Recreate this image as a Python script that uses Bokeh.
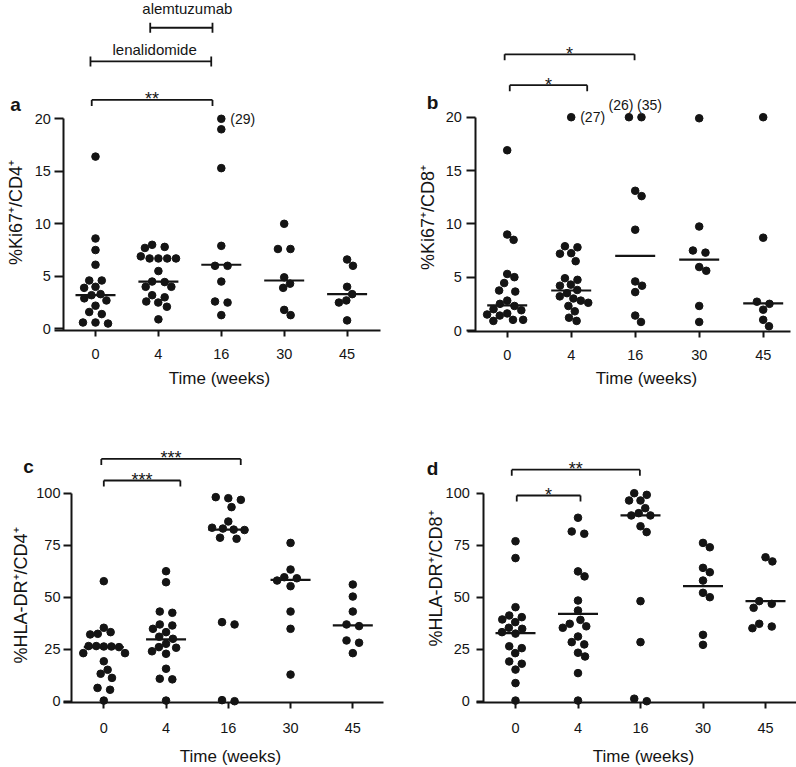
import math
from bokeh.plotting import figure
from bokeh.models import FixedTicker, Range1d
from bokeh.layouts import column, row
from bokeh.embed import file_html
from bokeh.resources import INLINE
from bokeh.core.properties import value

# ---------------- data ----------------
weeks = ["0", "4", "16", "30", "45"]

# a: %Ki67+/CD4+
cd4_ki67_w0 = [16.4, 8.6, 7.5, 6.1, 4.6, 4.6, 4.0, 3.9, 3.3, 3.2, 2.9, 2.7, 2.2, 1.6, 1.4, 0.6, 0.5, 0.6]
cd4_ki67_w4 = [8.0, 7.8, 7.7, 6.9, 6.7, 6.7, 6.7, 6.7, 5.5, 4.5, 4.45, 4.0, 4.0, 3.2, 3.0, 2.6, 2.5, 2.1, 0.9]
cd4_ki67_w16 = [29.0, 19.0, 15.3, 7.9, 6.0, 6.0, 4.5, 2.6, 2.5, 1.3]
cd4_ki67_w30 = [10.0, 7.6, 7.6, 4.9, 4.3, 3.9, 1.8, 1.3]
cd4_ki67_w45 = [6.6, 6.0, 4.0, 3.3, 2.7, 2.5, 0.8]
cd4_ki67_med = [3.2, 4.5, 6.1, 4.6, 3.3]

# b: %Ki67+/CD8+
cd8_ki67_w0 = [16.9, 9.0, 8.5, 5.3, 5.0, 4.45, 3.75, 3.65, 2.8, 2.5, 2.3, 2.0, 1.9, 1.6, 1.5, 1.4, 1.0, 0.9, 1.0]
cd8_ki67_w4 = [27.0, 7.9, 7.8, 7.25, 7.2, 6.5, 4.9, 4.75, 4.3, 4.2, 3.8, 3.5, 3.2, 3.0, 2.8, 2.6, 2.3, 1.8, 1.2, 0.9]
cd8_ki67_w16 = [26.0, 35.0, 13.1, 12.6, 9.45, 4.6, 4.2, 3.6, 1.4, 0.8]
cd8_ki67_w30 = [19.9, 9.75, 7.5, 7.3, 5.95, 5.6, 2.3, 0.8]
cd8_ki67_w45 = [20.0, 8.7, 2.7, 2.5, 1.95, 1.0, 0.4]
cd8_ki67_med = [2.35, 3.75, 7.0, 6.65, 2.55]

# c: %HLA-DR+/CD4+
cd4_hla_w0 = [57.7, 35.3, 33.2, 32.4, 32.1, 26.5, 26.3, 26.0, 26.3, 26.5, 23.1, 23.1, 19.2, 15.1, 13.2, 11.2, 6.4, 5.5, 0.3]
cd4_hla_w4 = [62.5, 57.2, 43.1, 42.5, 36.9, 36.4, 34.8, 33.2, 31.0, 30.0, 27.6, 26.0, 25.7, 24.0, 22.8, 15.6, 10.8, 10.5, 0.3]
cd4_hla_w16 = [98.1, 97.6, 96.8, 93.3, 86.4, 83.4, 83.0, 82.5, 82.3, 78.6, 78.1, 38.0, 36.9, 0.5, 0.0]
cd4_hla_w30 = [76.1, 63.3, 59.6, 59.1, 58.0, 55.3, 43.1, 34.8, 12.8]
cd4_hla_w45 = [56.1, 50.3, 43.1, 36.9, 36.1, 29.2, 28.1, 23.1]
cd4_hla_med = [26.0, 29.7, 82.5, 58.3, 36.5]

# d: %HLA-DR+/CD8+
cd8_hla_w0 = [76.9, 68.8, 45.2, 41.2, 40.4, 39.3, 38.0, 35.3, 34.8, 33.2, 32.5, 26.4, 25.5, 23.1, 19.1, 18.0, 15.2, 8.7, 0.3]
cd8_hla_w4 = [88.2, 81.6, 80.5, 62.4, 60.0, 48.4, 43.6, 39.1, 37.2, 36.0, 35.3, 31.1, 28.4, 27.3, 23.3, 21.5, 13.5, 0.3]
cd8_hla_w16 = [100.0, 99.2, 96.5, 96.5, 92.8, 90.4, 89.3, 89.3, 84.1, 81.3, 48.1, 28.4, 1.2, 0.0]
cd8_hla_w30 = [76.1, 74.0, 64.1, 62.0, 58.0, 52.1, 50.0, 31.9, 27.1]
cd8_hla_w45 = [69.2, 67.2, 48.1, 46.8, 44.9, 37.2, 35.9, 35.1]
cd8_hla_med = [32.7, 42.0, 89.3, 55.3, 48.1]

ki_ticks = [0, 5, 10, 15, 20]
hla_ticks = [0, 25, 50, 75, 100]

# significance brackets: (from x, to x, height, stars)
sig_a = [(-0.06, 1.86, 21.8, "**")]
sig_b = [(-0.04, 1.99, 25.9, "*"), (0.04, 1.25, 23.0, "*")]
sig_c = [(-0.04, 2.2, 116.5, "***"), (0.0, 1.23, 106.1, "***")]
sig_d = [(-0.06, 1.99, 111.3, "**"), (0.02, 1.04, 98.9, "*")]
# treatment periods (panel a): (from x, to x, height, name, text height, text x)
treat_a = [(-0.08, 1.84, 25.46, "lenalidomide", 26.57, 0.94),
           (0.87, 1.86, 28.67, "alemtuzumab", 30.5, 1.46)]

INK = "#141414"
SANS = "Liberation Sans"
DOT = 7.6
VSTRETCH = 1.3   # vertical reach of the spacing rule between dots


def swarm(vals, ppu, d=DOT):
    n = len(vals)
    dv = d * VSTRETCH
    idx = sorted(range(n), key=lambda i: -vals[i])
    rows = []
    for i in idx:
        y = vals[i] * ppu
        if rows and abs(rows[-1][0][1] - y) < 0.4 * d:
            rows[-1].append((i, y))
        else:
            rows.append([(i, y)])
    placed = []
    offs = [0.0] * n

    def ok(x, y):
        return all(((x - px) / d) ** 2 + ((y - py) / dv) ** 2 >= 1 - 1e-6 for px, py in placed)

    def greedy(i, y):
        cands = [0.0]
        for px, py in placed:
            dy = abs(py - y)
            if dy < dv:
                dx = d * math.sqrt(1 - (dy / dv) ** 2)
                cands += [px + dx, px - dx]
        cands.sort(key=abs)
        for c in cands:
            if ok(c, y):
                offs[i] = c
                placed.append((c, y))
                return

    for r in rows:
        k = len(r)
        if k == 1:
            greedy(*r[0])
            continue
        done = False
        s = 1.65 * d if k <= 3 else d
        while s <= 2.2 * d:
            xs = [(j - (k - 1) / 2) * s for j in range(k)]
            if all(ok(x, y) for x, (i, y) in zip(xs, r)):
                for x, (i, y) in zip(xs, r):
                    offs[i] = x
                    placed.append((x, y))
                done = True
                break
            s += 0.4
        if not done:
            for i, y in r:
                greedy(i, y)
    return offs


def panel(series, med, ylabel, letter, yticks, clip, sig, treat, *, width, height,
          X0, sx, Y0, ppu, yaxis_px, xstart_px, xend_px, xaxis_py, tick_standoff, xlab_standoff,
          ytitle_px, letter_px, xtitle_px):
    def DX(fx):
        return (fx - X0) / sx

    def DY(fy):
        return (Y0 - fy) / ppu

    p = figure(width=width, height=height, x_range=Range1d(DX(0), DX(width)),
               y_range=Range1d(DY(height), DY(0)), output_backend="svg", toolbar_location=None,
               min_border_left=0, min_border_right=0, min_border_top=0, min_border_bottom=0)
    p.xgrid.visible = False
    p.ygrid.visible = False
    p.outline_line_color = None
    p.background_fill_color = "white"
    p.border_fill_color = "white"

    x_axis_y = DY(xaxis_py)
    y_axis_x = DX(yaxis_px)

    xa = p.xaxis[0]
    xa.fixed_location = x_axis_y
    xa.bounds = (DX(xstart_px), DX(xend_px))
    xa.ticker = FixedTicker(ticks=list(range(len(weeks))))
    xa.major_label_overrides = {i: w for i, w in enumerate(weeks)}
    xa.axis_line_width = 2
    xa.axis_line_color = INK
    xa.major_tick_line_width = 2
    xa.major_tick_line_color = INK
    xa.major_tick_out = 6
    xa.major_tick_in = 0
    xa.minor_tick_line_color = None
    xa.major_label_text_font = SANS
    xa.major_label_text_font_size = "14.5px"
    xa.major_label_text_color = INK
    xa.major_label_standoff = xlab_standoff

    ya = p.yaxis[0]
    ya.fixed_location = y_axis_x
    ya.bounds = (x_axis_y, max(yticks))
    ya.ticker = FixedTicker(ticks=yticks)
    ya.axis_line_width = 2
    ya.axis_line_color = INK
    ya.major_tick_line_width = 2
    ya.major_tick_line_color = INK
    ya.major_tick_out = round(yaxis_px - xstart_px)
    ya.major_tick_in = 0
    ya.minor_tick_line_color = None
    ya.major_label_text_font = SANS
    ya.major_label_text_font_size = "14.5px"
    ya.major_label_text_color = INK
    ya.major_label_standoff = tick_standoff

    # axis titles and panel letter
    p.text(x=[DX(xtitle_px[0])], y=[DY(xtitle_px[1])], text=["Time (weeks)"], text_align="center",
           text_baseline="middle", text_font=value(SANS), text_font_size="17px", text_color=INK)
    p.text(x=[DX(ytitle_px[0])], y=[DY(ytitle_px[1])], text=[ylabel], angle=math.pi / 2,
           text_align="center", text_baseline="middle", text_font=value(SANS),
           text_font_size="18px", text_color=INK)
    p.text(x=[DX(letter_px[0])], y=[DY(letter_px[1])], text=[letter], text_align="center",
           text_baseline="middle", text_font=value(SANS), text_font_size="19px",
           text_font_style="bold", text_color=INK)

    xs, ys = [], []
    labs = []
    for g, vals in enumerate(series):
        shown = [min(v, clip) for v in vals]
        offs = swarm(shown, ppu)
        gx = [g + o / sx for o in offs]
        xs += gx
        ys += shown
        clipped = sorted((gx[i], v) for i, v in enumerate(vals) if v > clip)
        if len(clipped) == 1:
            cx, v = clipped[0]
            labs.append((cx, "(%d)" % round(v), "left", 9, 0))
        elif len(clipped) > 1:
            for j, (cx, v) in enumerate(clipped):
                labs.append((cx, "(%d)" % round(v), "center", -8 if j == 0 else 8, -12))
    p.scatter(xs, ys, size=DOT, color=INK, line_color=INK)

    half = 20 / sx
    p.segment(x0=[g - half for g in range(len(med))], y0=med,
              x1=[g + half for g in range(len(med))], y1=med, line_width=2.2, line_color=INK)

    for cx, t, al, ox, oy in labs:
        p.text(x=[cx], y=[clip], text=[t], text_align=al, text_baseline="middle", x_offset=ox,
               y_offset=oy, text_font=value(SANS), text_font_size="14px", text_color=INK)

    for x0, x1, by, stars in sig:
        cap = 6 / ppu
        p.segment(x0=[x0, x0, x1], y0=[by, by, by], x1=[x1, x0, x1], y1=[by, by - cap, by - cap],
                  line_width=1.8, line_color=INK)
        p.text(x=[(x0 + x1) / 2], y=[by + 0.5 / ppu], text=[stars], text_align="center",
               text_baseline="alphabetic", text_font=value(SANS), text_font_size="18px",
               text_color=INK)
    for x0, x1, by, name, ty, tx in treat:
        cap = 5 / ppu
        p.segment(x0=[x0, x0, x1], y0=[by, by - cap, by - cap], x1=[x1, x0, x1],
                  y1=[by, by + cap, by + cap], line_width=1.8, line_color=INK)
        p.text(x=[tx], y=[ty], text=[name], text_align="center", text_baseline="middle",
               text_font=value(SANS), text_font_size="15px", text_color=INK)
    return p


pa = panel([cd4_ki67_w0, cd4_ki67_w4, cd4_ki67_w16, cd4_ki67_w30, cd4_ki67_w45], cd4_ki67_med,
           "%Ki67⁺/CD4⁺", "a", ki_ticks, 20, sig_a, treat_a,
           width=398, height=390, X0=95, sx=62.9, Y0=328.3, ppu=10.5,
           yaxis_px=63.3, xstart_px=54.3, xend_px=380, xaxis_py=330, tick_standoff=4,
           xlab_standoff=12, ytitle_px=(15, 212), letter_px=(15, 104), xtitle_px=(219, 378))
pb = panel([cd8_ki67_w0, cd8_ki67_w4, cd8_ki67_w16, cd8_ki67_w30, cd8_ki67_w45], cd8_ki67_med,
           "%Ki67⁺/CD8⁺", "b", ki_ticks, 20, sig_b, [],
           width=398, height=390, X0=108.7, sx=64.0, Y0=330, ppu=10.665,
           yaxis_px=77.3, xstart_px=68.7, xend_px=392, xaxis_py=331, tick_standoff=5,
           xlab_standoff=12, ytitle_px=(29, 217), letter_px=(34, 102), xtitle_px=(248, 378))
pc = panel([cd4_hla_w0, cd4_hla_w4, cd4_hla_w16, cd4_hla_w30, cd4_hla_w45], cd4_hla_med,
           "%HLA-DR⁺/CD4⁺", "c", hla_ticks, 1000, sig_c, [],
           width=398, height=376, X0=103.3, sx=62.25, Y0=310.7, ppu=2.08,
           yaxis_px=71, xstart_px=63.3, xend_px=383, xaxis_py=311.5, tick_standoff=3,
           xlab_standoff=15, ytitle_px=(20, 205), letter_px=(28, 76), xtitle_px=(230, 366))
pd_ = panel([cd8_hla_w0, cd8_hla_w4, cd8_hla_w16, cd8_hla_w30, cd8_hla_w45], cd8_hla_med,
            "%HLA-DR⁺/CD8⁺", "d", hla_ticks, 1000, sig_d, [],
            width=398, height=376, X0=117, sx=62.5, Y0=310.7, ppu=2.08,
            yaxis_px=85.3, xstart_px=78, xend_px=398, xaxis_py=311.5, tick_standoff=7,
            xlab_standoff=15, ytitle_px=(37, 188), letter_px=(34, 78), xtitle_px=(245, 366))

layout = column(row(pa, pb), row(pc, pd_))
open("out.html", "w").write(file_html(layout, INLINE))
